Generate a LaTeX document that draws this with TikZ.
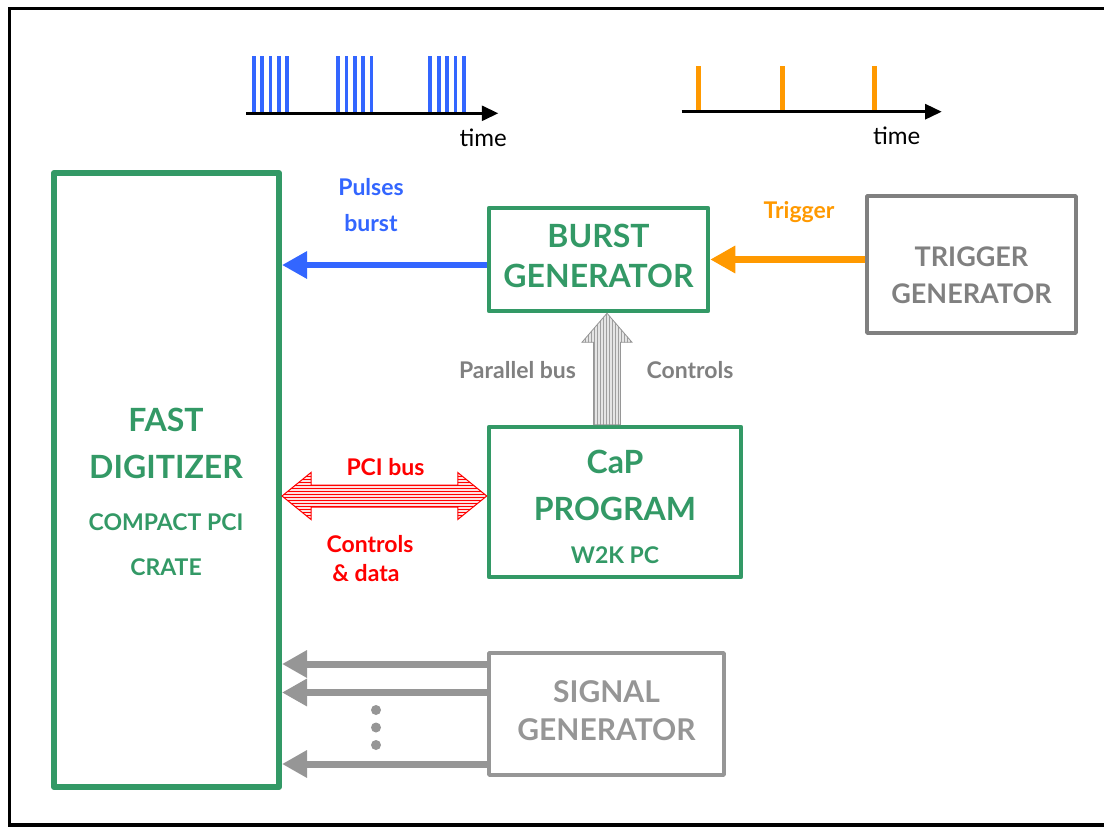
\documentclass[tikz,border=0pt]{standalone}
\usepackage{fontspec}
\setmainfont{Lato}
\usetikzlibrary{arrows.meta,patterns,calc}

\definecolor{boxgreen}{RGB}{51,153,102}
\definecolor{pulseblue}{RGB}{51,102,255}
\definecolor{trigorange}{RGB}{255,153,0}
\definecolor{gengray}{RGB}{128,128,128}
\definecolor{siggray}{RGB}{150,150,150}

\begin{document}
\begin{tikzpicture}[x=1pt,y=-1pt,
  greenbox/.style={draw=boxgreen, line width=4.5pt, line join=round, text=boxgreen,
    font=\bfseries\fontsize{32}{40}\selectfont, align=center, inner sep=0pt},
  graybox/.style={draw=gengray, line width=3.5pt, line join=round, text=gengray,
    font=\bfseries\fontsize{27}{37}\selectfont, align=center, inner sep=0pt},
  bigtxt/.style={anchor=base, text=boxgreen, font=\bfseries\fontsize{32}{38}\selectfont, inner sep=0pt},
  subtxt/.style={anchor=base, text=boxgreen, font=\bfseries\fontsize{23}{28}\selectfont, inner sep=0pt},
  lbl/.style={anchor=base, font=\bfseries\fontsize{23}{28}\selectfont, inner sep=0pt},
  timetxt/.style={anchor=base, font=\fontsize{24}{28}\selectfont, inner sep=0pt},
  timeaxis/.style={line width=2.7pt, -{Triangle[length=16.5pt,width=15pt]}},
  fatarrow/.style={line width=6.5pt, -{Triangle[length=25pt,width=26pt]}},
  pcibus/.style={draw=red, line width=1pt, preaction={fill=red!12},
    pattern=horizontal lines, pattern color=red},
  parbus/.style={draw=siggray, line width=0.8pt, preaction={fill=gray!20},
    pattern=vertical lines, pattern color=gray!75},
  ]
\useasboundingbox (0,0) rectangle (1104,828);

% outer frame
\draw[line width=3.3pt] (9.5,8.5) rectangle (1120,825);

% Boxes
\node[greenbox, line width=6pt, minimum width=225pt, minimum height=614pt] (digi) at (166.5,480) {};
\node[greenbox, minimum width=219pt, minimum height=103pt, text depth=8pt] (burst) at (598.5,259.5) {BURST\\GENERATOR};
\node[graybox, minimum width=209pt, minimum height=137pt, text height=79pt] (trig) at (971.5,264.5) {TRIGGER\\GENERATOR};
\node[greenbox, minimum width=252pt, minimum height=150pt] (cap) at (615,502) {};
\node[graybox, draw=siggray, text=siggray, font=\bfseries\fontsize{30}{38}\selectfont,
  minimum width=235pt, minimum height=122pt, text depth=7.5pt] (sig) at (606.5,714) {SIGNAL\\GENERATOR};

% Text Node
\node[bigtxt] (fast) at (166,431) {FAST};
\node[bigtxt] (digitzr) at (166,478) {DIGITIZER};
\node[subtxt] (compact) at (166,530) {COMPACT PCI};
\node[subtxt] (crate) at (166,575) {CRATE};
% Text Node
\node[bigtxt] (capname) at (615,473) {CaP};
\node[bigtxt] (capprog) at (615,520) {PROGRAM};
\node[subtxt] (cappc) at (615,563) {W2K PC};

% Pulses burst
\draw[fatarrow, pulseblue, line width=6pt] ([yshift=-5.5pt]burst.west) coordinate (pb) -- (pb -| digi.east);
% Trigger
\draw[fatarrow, trigorange] (trig.west |- burst.east) -- (burst.east);
% Signal lines
\foreach \dy in {50,21.5,-50}
  \draw[fatarrow, siggray, line width=7pt] ([yshift=\dy pt]sig.west) coordinate (sg) -- (sg -| digi.east);
\foreach \y in {710,727.5,745}
  \fill[siggray] (376,\y) circle (5);

% PCI bus (double arrow)
\coordinate (pcir) at ([yshift=6pt]cap.west);
\coordinate (pcil) at (pcir -| digi.east);
\draw[pcibus] (pcil) -- ($(pcil)+(29,-23.5)$) -- ($(pcil)+(29,-11)$) -- ($(pcir)+(-29,-11)$)
  -- ($(pcir)+(-29,-23.5)$) -- (pcir) -- ($(pcir)+(-29,23.5)$) -- ($(pcir)+(-29,11)$)
  -- ($(pcil)+(29,11)$) -- ($(pcil)+(29,23.5)$) -- cycle;

% Parallel bus (up arrow)
\coordinate (busx) at (607,0);
\coordinate (pbtip) at (burst.south -| busx);
\coordinate (pbfoot) at (cap.north -| busx);
\draw[parbus] (pbtip) -- ($(pbtip)+(25,29)$) -- ($(pbtip)+(13.5,29)$) -- ($(pbfoot)+(13.5,0)$)
  -- ($(pbfoot)+(-13.5,0)$) -- ($(pbtip)+(-13.5,29)$) -- ($(pbtip)+(-25,29)$) -- cycle;

% Labels
\node[lbl, text=pulseblue] (pulses) at (371,195) {Pulses};
\node[lbl, text=pulseblue] (burstlbl) at (371,231) {burst};
\node[lbl, text=trigorange] (triglbl) at (799,218) {Trigger};
\node[lbl, text=gengray] (parlbl) at (517.5,378) {Parallel bus};
\node[lbl, text=gengray] (ctllbl) at (690,378) {Controls};
\node[lbl, text=red] (pcilbl) at (385.5,475) {PCI bus};
\node[lbl, text=red] (pcictl) at (370,552) {Controls};
\node[lbl, text=red] (pcidata) at (366,581) {\& data};

% burst timeline
\foreach \g in {253.8,338,430.3}
  \foreach \k in {0,...,4}
    \draw[pulseblue, line width=3.7pt] (\g+8.35*\k,56) -- (\g+8.35*\k,113.3);
\draw[timeaxis] (246,113.3) -- (498.3,113.3);
\node[timetxt] (time1) at (483.3,146) {time};

% trigger timeline
\foreach \x in {698.3,782.3,874.5}
  \draw[trigorange, line width=4.7pt] (\x,66) -- (\x,111.7);
\draw[timeaxis] (681.7,111.7) -- (941.7,111.7);
\node[timetxt] (time2) at (896.7,144) {time};

\end{tikzpicture}
\end{document}
